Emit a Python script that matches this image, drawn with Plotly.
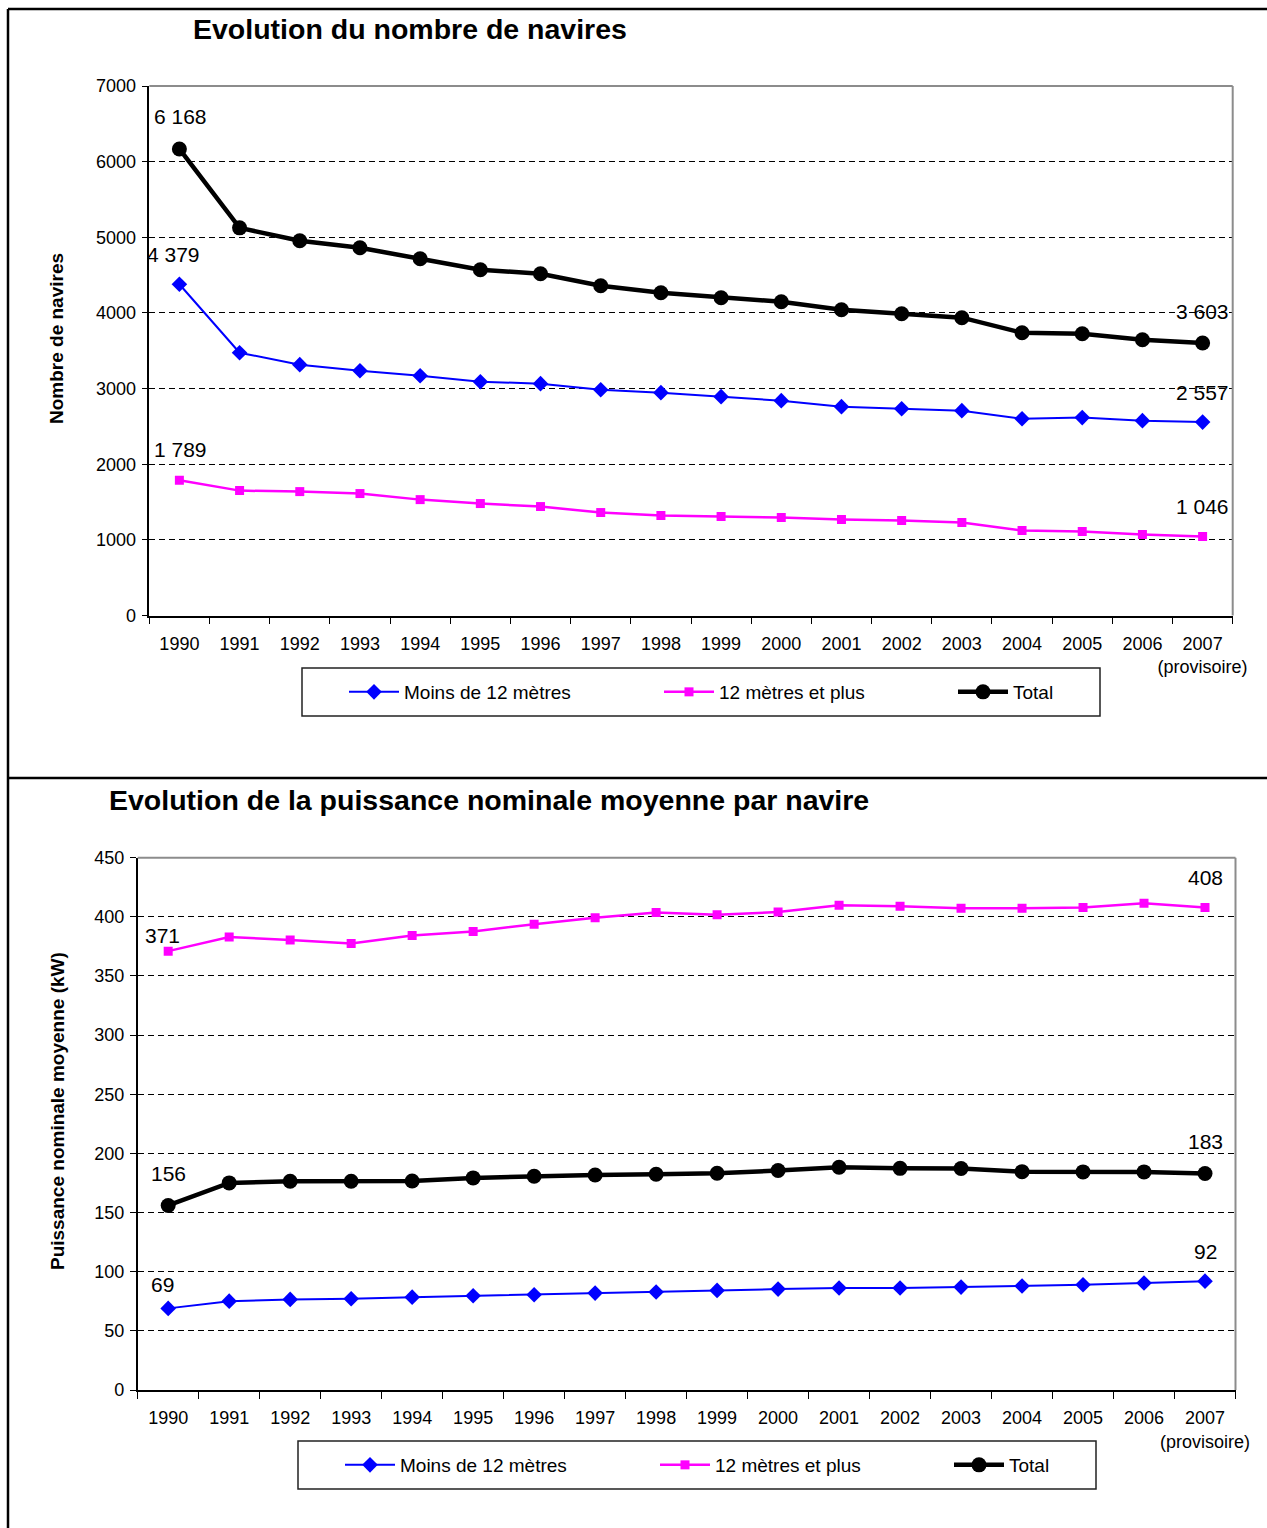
import plotly.graph_objects as go

W, H = 1267, 1528

years = ["1990", "1991", "1992", "1993", "1994", "1995", "1996", "1997", "1998",
         "1999", "2000", "2001", "2002", "2003", "2004", "2005", "2006",
         "2007<br>(provisoire)"]

# Chart 1 : number of vessels
nb_moins12 = [4379, 3474, 3316, 3236, 3170, 3091, 3065, 2985, 2946, 2893, 2840,
              2761, 2734, 2708, 2602, 2616, 2576, 2557]
nb_plus12 = [1789, 1651, 1638, 1612, 1532, 1480, 1440, 1361, 1321, 1308, 1295,
             1268, 1255, 1229, 1123, 1110, 1070, 1046]
nb_total = [6168, 5125, 4954, 4861, 4716, 4571, 4518, 4359, 4267, 4201, 4148,
            4042, 3989, 3937, 3738, 3725, 3646, 3603]

# Chart 2 : mean nominal power per vessel (kW)
kw_moins12 = [69, 75.1, 76.6, 77.1, 78.5, 79.7, 80.5, 81.9, 82.8, 84.2, 85.3,
              86.2, 86.2, 87.0, 87.9, 89.0, 90.4, 92]
kw_plus12 = [371, 383, 380.5, 377.4, 384.2, 387.6, 393.8, 399.2, 403.6, 401.7,
             404, 409.8, 409, 407.3, 407.3, 407.8, 411.5, 408]
kw_total = [156, 175.1, 176.5, 176.5, 176.7, 179.3, 180.7, 181.8, 182.4, 183.2,
            185.5, 188.3, 187.4, 187.2, 184.6, 184.4, 184.4, 183]

series_names = ["Moins de 12 mètres", "12 mètres et plus", "Total"]
titles = ["Evolution du nombre de navires",
          "Evolution de la puissance nominale moyenne par navire"]
ytitles = ["Nombre de navires", "Puissance nominale moyenne (kW)"]

FONT = "Liberation Sans, Arial, sans-serif"
BLUE, MAGENTA, BLACK = "#0000FF", "#FF00FF", "#000000"


def px_x(v):
    return v / W


def px_y(v):
    return 1 - v / H


fig = go.Figure()

styles = [
    dict(color=BLUE, width=2, symbol="diamond", size=12),
    dict(color=MAGENTA, width=2.5, symbol="square", size=9),
    dict(color=BLACK, width=4.5, symbol="circle", size=15),
]

chart_data = [
    ([nb_moins12, nb_plus12, nb_total], "x", "y"),
    ([kw_moins12, kw_plus12, kw_total], "x2", "y2"),
]

legend_ids = [["legend", "legend2", "legend3"], ["legend4", "legend5", "legend6"]]

for ci, (series, xa, ya) in enumerate(chart_data):
    for si, vals in enumerate(series):
        st = styles[si]
        fig.add_trace(go.Scatter(
            x=years, y=vals, name=series_names[si], mode="lines+markers",
            xaxis=xa, yaxis=ya, legend=legend_ids[ci][si],
            line=dict(color=st["color"], width=st["width"]),
            marker=dict(color=st["color"], symbol=st["symbol"], size=st["size"]),
            hoverinfo="skip",
        ))


def fmt(v):
    return f"{round(v):,}".replace(",", " ")


annotations = []
last = len(years) - 1
# data labels (first and last points); x given as category index
label_specs = [
    # (series, xref, yref, idx, xshift, yshift)
    (nb_total, "x", "y", 0, 1, 32),
    (nb_moins12, "x", "y", 0, -6, 30),
    (nb_plus12, "x", "y", 0, 1, 31),
    (nb_total, "x", "y", last, 0, 31),
    (nb_moins12, "x", "y", last, 0, 30),
    (nb_plus12, "x", "y", last, 0, 30),
    (kw_plus12, "x2", "y2", 0, -6, 16),
    (kw_total, "x2", "y2", 0, 0, 32),
    (kw_moins12, "x2", "y2", 0, -6, 24),
    (kw_plus12, "x2", "y2", last, 0, 30),
    (kw_total, "x2", "y2", last, 0, 32),
    (kw_moins12, "x2", "y2", last, 0, 30),
]
for vals, xr, yr, idx, xs, ys in label_specs:
    annotations.append(dict(
        x=idx, y=vals[idx], xref=xr, yref=yr, text=fmt(vals[idx]),
        showarrow=False, xshift=xs, yshift=ys, xanchor="center", yanchor="middle",
        font=dict(family=FONT, size=21, color="black")))

# titles
annotations.append(dict(x=px_x(409.5), y=px_y(29), xref="paper", yref="paper",
                        text="<b>" + titles[0] + "</b>", showarrow=False,
                        xanchor="center", yanchor="middle",
                        font=dict(family=FONT, size=28.5, color="black")))
annotations.append(dict(x=px_x(488.5), y=px_y(800), xref="paper", yref="paper",
                        text="<b>" + titles[1] + "</b>", showarrow=False,
                        xanchor="center", yanchor="middle",
                        font=dict(family=FONT, size=28.5, color="black")))
# y-axis titles
annotations.append(dict(x=px_x(57), y=px_y(339), xref="paper", yref="paper",
                        text="<b>" + ytitles[0] + "</b>", showarrow=False,
                        xanchor="center", yanchor="middle",
                        textangle=-90, font=dict(family=FONT, size=19, color="black")))
annotations.append(dict(x=px_x(57), y=px_y(1111), xref="paper", yref="paper",
                        text="<b>" + ytitles[1] + "</b>", showarrow=False,
                        xanchor="center", yanchor="middle",
                        textangle=-90, font=dict(family=FONT, size=19, color="black")))

shapes = []
# outer frame lines
for x0, y0, x1, y1 in [(8, 9, 8, 1528), (8, 9, 1267, 9), (8, 778, 1267, 778)]:
    shapes.append(dict(type="line", xref="paper", yref="paper",
                       x0=px_x(x0), y0=px_y(y0), x1=px_x(x1), y1=px_y(y1),
                       line=dict(color="black", width=2.5)))
# gray top/right borders of plot areas
for xr, yr in [("x domain", "y domain"), ("x2 domain", "y2 domain")]:
    shapes.append(dict(type="line", xref=xr, yref=yr, x0=0, y0=1, x1=1, y1=1,
                       line=dict(color="#8c8c8c", width=2), layer="above"))
    shapes.append(dict(type="line", xref=xr, yref=yr, x0=1, y0=0, x1=1, y1=1,
                       line=dict(color="#8c8c8c", width=2), layer="above"))
# legend boxes
for x0, y0, x1, y1 in [(302, 668, 1100, 716), (298, 1441, 1096, 1489)]:
    shapes.append(dict(type="rect", xref="paper", yref="paper",
                       x0=px_x(x0), y0=px_y(y0), x1=px_x(x1), y1=px_y(y1),
                       line=dict(color="#222", width=1.5), fillcolor="white",
                       layer="below"))

xaxis_common = dict(
    type="category", range=[-0.5, 17.5], tickson="boundaries", tickangle=0,
    showline=True, linecolor="black", linewidth=1.5,
    ticks="outside", ticklen=7, tickcolor="black", tickwidth=1,
    ticklabelstandoff=11,
    showgrid=False, zeroline=False,
    tickfont=dict(family=FONT, size=18, color="black"),
    automargin=False, fixedrange=True,
)
yaxis_common = dict(
    showline=True, linecolor="black", linewidth=1.5,
    ticks="outside", ticklen=6, tickcolor="black", tickwidth=1,
    ticklabelstandoff=2,
    showgrid=True, gridcolor="black", gridwidth=1, griddash="6px,4px",
    zeroline=False,
    tickfont=dict(family=FONT, size=18, color="black"),
    automargin=False, fixedrange=True,
)

legend_common = dict(
    orientation="h", xanchor="left", yanchor="middle",
    bgcolor="rgba(0,0,0,0)", borderwidth=0, itemwidth=50,
    font=dict(family=FONT, size=19, color="black"),
    itemclick=False, itemdoubleclick=False,
)
legend_pos = [(344, 692), (659, 692), (953, 692),
              (340, 1465), (655, 1465), (949, 1465)]

layout = dict(
    width=W, height=H,
    margin=dict(l=0, r=0, t=0, b=0, pad=0),
    paper_bgcolor="white", plot_bgcolor="white",
    font=dict(family=FONT, size=18, color="black"),
    xaxis=dict(xaxis_common, domain=[px_x(149.3), px_x(1232.7)], anchor="y"),
    yaxis=dict(yaxis_common, domain=[px_y(615.5), px_y(86)], anchor="x",
               range=[0, 7000], tickvals=[0, 1000, 2000, 3000, 4000, 5000, 6000, 7000]),
    xaxis2=dict(xaxis_common, domain=[px_x(137.7), px_x(1235.5)], anchor="y2"),
    yaxis2=dict(yaxis_common, domain=[px_y(1390), px_y(857.7)], anchor="x2",
                range=[0, 450], tickvals=[0, 50, 100, 150, 200, 250, 300, 350, 400, 450]),
    annotations=annotations, shapes=shapes, showlegend=True,
)
for i, (lx, ly) in enumerate(legend_pos):
    key = "legend" if i == 0 else f"legend{i + 1}"
    layout[key] = dict(legend_common, x=px_x(lx), y=px_y(ly))

fig.update_layout(**layout)
fig.write_html(
    "out.html",
    config={"displayModeBar": False},
    post_script="document.body.style.margin='0';document.body.style.padding='0';"
                "document.body.style.overflow='hidden';",
)
